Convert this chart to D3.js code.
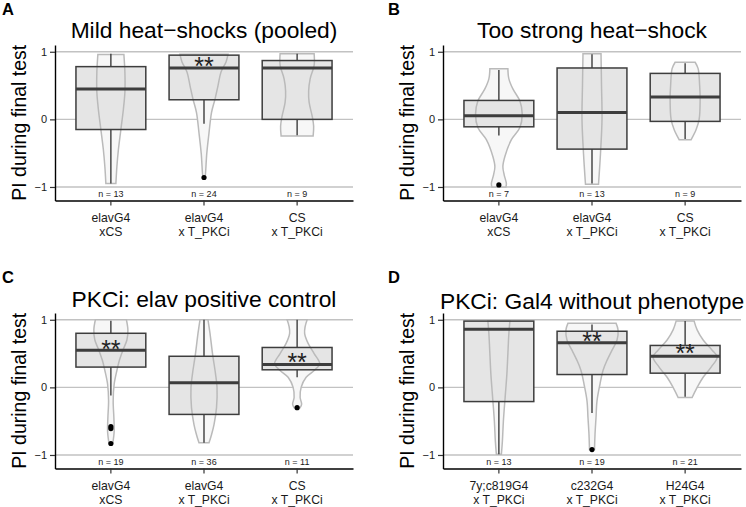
<!DOCTYPE html>
<html>
<head>
<meta charset="utf-8">
<script src="https://cdn.jsdelivr.net/npm/d3@7"></script>
<style>
  html, body { margin: 0; padding: 0; background: #fff; }
  svg { display: block; }
  text { font-family: "Liberation Sans", Arial, Helvetica, sans-serif; }
</style>
</head>
<body>
<svg id="chart" width="746" height="507"></svg>
<script>
// ---------------- data ----------------
const panelLetters = ["A", "B", "C", "D"];
const panelTitles = [
  "Mild heat\u2212shocks (pooled)",
  "Too strong heat\u2212shock",
  "PKCi: elav positive control",
  "PKCi: Gal4 without phenotype"
];
const categoryLabels = [
  [["elavG4", "xCS"], ["elavG4", "x T_PKCi"], ["CS", "x T_PKCi"]],
  [["elavG4", "xCS"], ["elavG4", "x T_PKCi"], ["CS", "x T_PKCi"]],
  [["elavG4", "xCS"], ["elavG4", "x T_PKCi"], ["CS", "x T_PKCi"]],
  [["7y;c819G4", "x T_PKCi"], ["c232G4", "x T_PKCi"], ["H24G4", "x T_PKCi"]]
];
const yTickValues = [-1, 0, 1];
const yTickLabels = ["\u22121", "0", "1"];
const yAxisTitle = "PI during final test";

const whiskerLow  = [[-0.95, -0.065, -0.235], [-0.24, -0.95, -0.29], [-0.12, -0.82, 0.15], [-0.99, -0.38, -0.14]];
const quartile1   = [[-0.15, 0.29, 0.0],      [-0.11, -0.44, -0.03], [0.30, -0.40, 0.26],  [-0.21, 0.19, 0.21]];
const medians     = [[0.45, 0.76, 0.76],      [0.055, 0.10, 0.33],   [0.55, 0.07, 0.34],   [0.86, 0.66, 0.46]];
const quartile3   = [[0.78, 0.95, 0.87],      [0.28, 0.76, 0.68],    [0.80, 0.46, 0.59],   [0.98, 0.83, 0.62]];
const whiskerHigh = [[0.97, 0.95, 0.97],      [0.73, 0.965, 0.83],   [0.985, 1.0, 1.0],    [0.98, 0.93, 0.98]];
const outliers    = [[[], [-0.86], []], [[-0.97], [], []], [[-0.58, -0.61, -0.83], [], [-0.30]], [[], [-0.92], []]];
const sampleSizes = [[13, 24, 9], [7, 13, 9], [19, 36, 11], [13, 19, 21]];
const starLevels  = [[null, 0.87, null], [null, null, null], [0.65, null, 0.45], [null, 0.77, 0.58]];
const nLabelLevel = -1.1;

// violin profiles: [PI value, relative density width]
const violinsA = [
  [[0.96, 13], [0.7, 14], [0.4, 14], [0.15, 12.5], [-0.15, 10], [-0.45, 7.5], [-0.7, 6], [-0.95, 5]],
  [[0.965, 24], [0.85, 22], [0.7, 17], [0.5, 14], [0.3, 11], [0.1, 7.5], [-0.2, 5], [-0.5, 2.8], [-0.8, 1.5], [-0.87, 1]],
  [[0.97, 17], [0.8, 17], [0.6, 13], [0.42, 11.5], [0.25, 12], [0.05, 15], [-0.1, 16.5], [-0.245, 16]]
];
const violinsB = [
  [[0.75, 9], [0.6, 10], [0.45, 14], [0.27, 21], [0.08, 23.3], [-0.12, 21], [-0.3, 12.5], [-0.55, 6], [-0.7, 4], [-0.82, 5.3], [-0.95, 7.5], [-1.0, 7]],
  [[0.97, 9], [0.5, 9.5], [0.0, 10], [-0.5, 8.5], [-0.96, 6.5]],
  [[0.845, 10], [0.75, 13], [0.5, 14.5], [0.3, 15], [0.0, 14], [-0.15, 11], [-0.3, 6]]
];
const violinsC = [
  [[1.0, 15.5], [0.85, 17], [0.7, 16], [0.55, 12], [0.4, 8.5], [0.25, 6], [0.05, 3.3], [-0.2, 2.3], [-0.45, 3], [-0.65, 3.3], [-0.82, 2]],
  [[1.0, 4], [0.8, 6], [0.5, 8.5], [0.2, 11.5], [0.0, 13], [-0.3, 12.5], [-0.55, 10], [-0.7, 7.5], [-0.82, 5]],
  [[1.0, 10], [0.9, 8], [0.8, 7.5], [0.65, 11], [0.5, 17], [0.35, 22.5], [0.25, 17], [0.15, 9], [0.0, 4], [-0.15, 3], [-0.25, 4.5], [-0.3, 3]]
];
const violinsD = [
  [[0.98, 11], [0.8, 10], [0.5, 9], [0.2, 8], [-0.1, 6.5], [-0.5, 4.5], [-0.8, 3.5], [-0.99, 2.5]],
  [[0.95, 24], [0.85, 26], [0.7, 25], [0.55, 20], [0.4, 15], [0.25, 11], [0.05, 8], [-0.2, 5], [-0.45, 4], [-0.7, 3], [-0.92, 2.5]],
  [[0.98, 9], [0.85, 12], [0.7, 18], [0.55, 27], [0.45, 32], [0.3, 26], [0.15, 18], [0.0, 12], [-0.15, 7]]
];
const violinSets = [violinsA, violinsB, violinsC, violinsD];

// ---------------- layout ----------------
const svg = d3.select("#chart");
const plotW = 298;
const plotLefts = [55, 443];
const plotTops = [45, 313];
const plotH = 155.5;
const titleBaselines = [38, 38, 307, 309];
const letterX = [2, 388];
const letterBaselines = [15, 283];

const C = {
  grid: "#c2c2c2",
  boxFill: "#e5e5e5",
  boxStroke: "#3d3d3d",
  violinFill: "#f7f7f7",
  violinStroke: "#bababa",
  axis: "#000000",
  text: "#000000",
  tickText: "#1a1a1a"
};

panelLetters.forEach((letter, p) => {
  const col = p % 2, row = Math.floor(p / 2);
  const left = plotLefts[col], top = plotTops[row];
  const right = left + plotW, bottom = top + plotH;
  const cats = categoryLabels[p].map(d => d.join("\n"));

  const x = d3.scaleBand().domain(cats).range([left, right]).paddingInner(0).paddingOuter(0.1);
  const y = d3.scaleLinear().domain([-1.2, 1.1]).range([bottom, top]);
  const step = x.step();
  const boxW = step * 0.75;
  const vScale = step / 93;

  const g = svg.append("g");

  // gridlines
  g.selectAll("line.grid").data(yTickValues).join("line")
    .attr("x1", left).attr("x2", right)
    .attr("y1", d => y(d)).attr("y2", d => y(d))
    .attr("stroke", C.grid).attr("stroke-width", 1.3);

  const groups = cats.map((c, i) => ({
    cx: x(c) + x.bandwidth() / 2,
    lo: whiskerLow[p][i], q1: quartile1[p][i], med: medians[p][i],
    q3: quartile3[p][i], hi: whiskerHigh[p][i],
    out: outliers[p][i], n: sampleSizes[p][i], star: starLevels[p][i],
    violin: violinSets[p][i]
  }));

  const violinArea = (cx) => d3.area()
    .curve(d3.curveCatmullRom.alpha(0.5))
    .y(d => y(d[0]))
    .x0(d => cx - d[1] * vScale)
    .x1(d => cx + d[1] * vScale);

  groups.forEach(gr => {
    g.append("path").attr("d", violinArea(gr.cx)(gr.violin))
      .attr("fill", C.violinFill).attr("stroke", "none");
  });
  groups.forEach(gr => {
    g.append("rect")
      .attr("x", gr.cx - boxW / 2).attr("width", boxW)
      .attr("y", y(gr.q3)).attr("height", y(gr.q1) - y(gr.q3))
      .attr("fill", C.boxFill).attr("stroke", "none");
  });
  groups.forEach(gr => {
    g.append("path").attr("d", violinArea(gr.cx)(gr.violin))
      .attr("fill", "none").attr("stroke", C.violinStroke).attr("stroke-width", 1.5);
  });
  groups.forEach(gr => {
    g.append("line").attr("x1", gr.cx).attr("x2", gr.cx)
      .attr("y1", y(gr.q3)).attr("y2", y(gr.hi))
      .attr("stroke", C.boxStroke).attr("stroke-width", 1.4);
    g.append("line").attr("x1", gr.cx).attr("x2", gr.cx)
      .attr("y1", y(gr.q1)).attr("y2", y(gr.lo))
      .attr("stroke", C.boxStroke).attr("stroke-width", 1.4);
    g.append("rect")
      .attr("x", gr.cx - boxW / 2).attr("width", boxW)
      .attr("y", y(gr.q3)).attr("height", y(gr.q1) - y(gr.q3))
      .attr("fill", "none").attr("stroke", C.boxStroke).attr("stroke-width", 1.5);
    g.append("line").attr("x1", gr.cx - boxW / 2).attr("x2", gr.cx + boxW / 2)
      .attr("y1", y(gr.med)).attr("y2", y(gr.med))
      .attr("stroke", C.boxStroke).attr("stroke-width", 3);
    g.selectAll(null).data(gr.out).join("circle")
      .attr("cx", gr.cx).attr("cy", d => y(d)).attr("r", 2.6)
      .attr("fill", "#000");
    if (gr.star !== null) {
      g.append("text").attr("x", gr.cx).attr("y", y(gr.star) + 25 * 0.57)
        .attr("text-anchor", "middle").attr("font-size", 25).attr("fill", "#222")
        .text("**");
    }
    g.append("text").attr("x", gr.cx).attr("y", y(nLabelLevel) + 3.2)
      .attr("text-anchor", "middle").attr("font-size", 9).attr("fill", C.tickText)
      .text("n = " + gr.n);
  });

  // y axis
  const yAxis = g.append("g").attr("transform", `translate(${left},0)`)
    .call(d3.axisLeft(y).tickValues(yTickValues)
      .tickFormat((d, i) => yTickLabels[i])
      .tickSize(5).tickSizeOuter(0).tickPadding(3));
  yAxis.select(".domain").attr("stroke", C.axis).attr("stroke-width", 1.4);
  yAxis.selectAll(".tick line").attr("stroke", "#333").attr("stroke-width", 1.2);
  yAxis.selectAll(".tick text").attr("font-size", 11).attr("fill", C.tickText)
    .attr("font-family", "Liberation Sans, Arial, sans-serif");

  // x axis
  const xAxis = g.append("g").attr("transform", `translate(0,${bottom})`)
    .call(d3.axisBottom(x).tickSize(5).tickSizeOuter(0).tickPadding(3));
  xAxis.select(".domain").attr("stroke", C.axis).attr("stroke-width", 1.4);
  xAxis.selectAll(".tick line").attr("stroke", "#333").attr("stroke-width", 1.2);
  xAxis.selectAll(".tick text").each(function (d) {
    const t = d3.select(this);
    t.text(null).attr("y", null).attr("dy", null)
      .attr("font-size", 12.2).attr("fill", C.tickText)
      .attr("font-family", "Liberation Sans, Arial, sans-serif");
    d.split("\n").forEach((line, k) => {
      t.append("tspan").attr("x", 0).attr("y", 21.5 + k * 13.7).text(line);
    });
  });

  // y axis title
  g.append("text")
    .attr("transform", `translate(${left - 29},${(top + bottom) / 2}) rotate(-90)`)
    .attr("text-anchor", "middle").attr("font-size", 19.5).attr("fill", C.text)
    .text(yAxisTitle);

  // panel title
  g.append("text").attr("x", (left + right) / 2).attr("y", titleBaselines[p])
    .attr("text-anchor", "middle").attr("font-size", 22.8).attr("fill", C.text)
    .text(panelTitles[p]);

  // panel letter
  svg.append("text").attr("x", letterX[col]).attr("y", letterBaselines[row])
    .attr("font-size", 16.5).attr("font-weight", "bold").attr("fill", C.text)
    .text(letter);
});
</script>
</body>
</html>
